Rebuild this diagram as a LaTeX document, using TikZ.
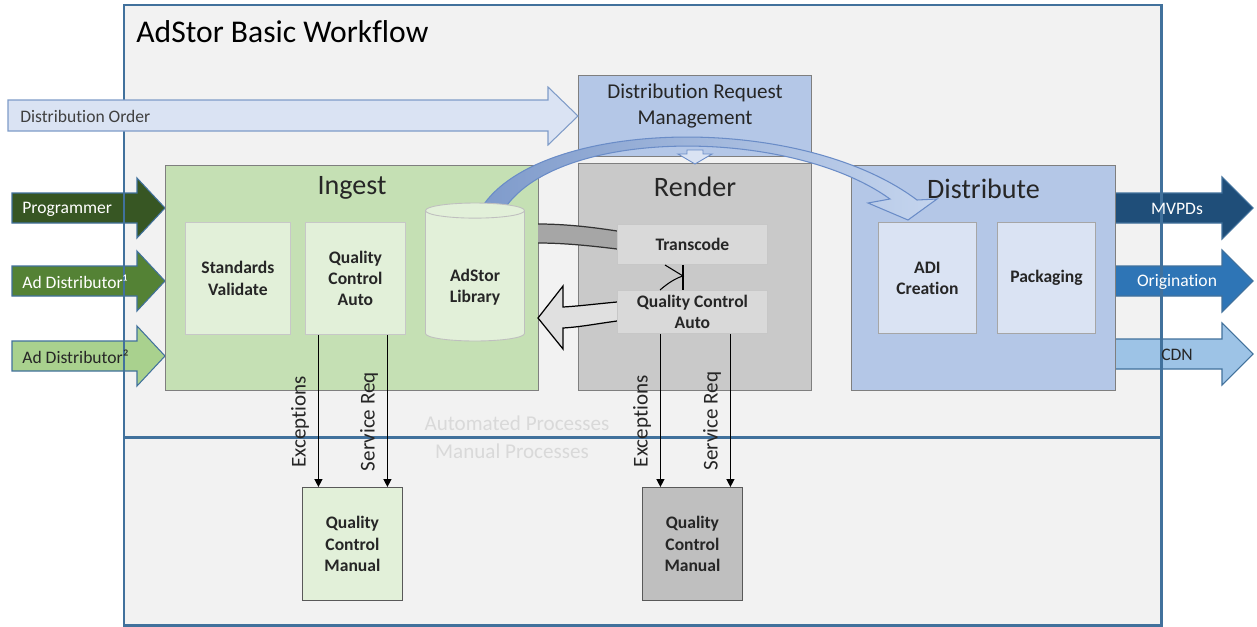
\documentclass[tikz,border=0pt]{standalone}
\usepackage{fontspec}
\setmainfont{Carlito}[Ligatures=NoCommon]
\usepackage{xcolor}
\definecolor{frameBlue}{HTML}{41719C}
\definecolor{frameFill}{HTML}{F2F2F2}
\definecolor{orderFill}{HTML}{DAE3F3}
\definecolor{orderLine}{HTML}{7F9CC8}
\definecolor{drmFill}{HTML}{B4C7E7}
\definecolor{ingestFill}{HTML}{C5E0B4}
\definecolor{ingestLight}{HTML}{E2F0D9}
\definecolor{renderFill}{HTML}{C9C9C9}
\definecolor{renderLight}{HTML}{D9D9D9}
\definecolor{distFill}{HTML}{B4C7E7}
\definecolor{distLight}{HTML}{DAE3F3}
\definecolor{boxLine}{HTML}{7F7F7F}
\definecolor{progFill}{HTML}{375623}
\definecolor{adOneFill}{HTML}{548235}
\definecolor{adTwoFill}{HTML}{A9D18E}
\definecolor{mvpdFill}{HTML}{1F4E79}
\definecolor{origFill}{HTML}{2E75B6}
\definecolor{cdnFill}{HTML}{9DC3E6}
\definecolor{textDark}{HTML}{262626}
\definecolor{ghostText}{HTML}{D9D9D9}
\definecolor{curveDark}{HTML}{7F9BCB}
\definecolor{curveLight}{HTML}{C5D5EE}
\definecolor{curveLine}{HTML}{6A8CC7}
\definecolor{bandFill}{HTML}{A6A6A6}
\usepackage{tikz}
\usetikzlibrary{shapes.geometric,arrows.meta,positioning,calc}
\tikzset{
    stage/.style={
        rectangle,
        draw=boxLine,
        line width=0.6pt,
        anchor=north west,
        inner sep=0pt
    },
    stagetitle/.style={
        font=\fontsize{16}{19}\selectfont,
        text=textDark,
        inner sep=0pt
    },
    task/.style={
        rectangle,
        draw=black!22,
        line width=0.5pt,
        anchor=north west,
        align=center,
        inner sep=0pt,
        font=\fontsize{10}{12}\selectfont\bfseries,
        text=textDark
    },
    manual/.style={
        task,
        draw=black!65
    },
    feed/.style={
        draw=frameBlue,
        line width=0.6pt
    },
    feedtext/.style={
        anchor=west,
        inner sep=0pt,
        font=\fontsize{10}{12}\selectfont
    },
    outtext/.style={
        inner sep=0pt,
        font=\fontsize{10}{12}\selectfont
    },
    flow/.style={
        -{Triangle[length=4.5pt,width=4.5pt]},
        line width=0.8pt,
        color=black
    },
    flowlabel/.style={
        rotate=90,
        anchor=south,
        inner sep=5pt,
        font=\fontsize{12}{14}\selectfont,
        text=textDark
    },
    ghost/.style={
        font=\fontsize{12}{14}\selectfont,
        text=ghostText,
        inner sep=0pt
    }
}
\begin{document}
\begin{tikzpicture}[x=0.02cm, y=-0.02cm]
    \useasboundingbox (0,0) rectangle (1257,626);
    \fill[white] (0,0) rectangle (1257,626);
    \fill[frameFill] (124,5) rectangle (1161,625);

    % feeds in and out
    \draw[feed, fill=progFill] (12,193) -- (137,193) -- (137,178) -- (165,208) -- (137,238) -- (137,223) -- (12,223) -- cycle;
    \draw[feed, fill=adOneFill] (12,266) -- (137,266) -- (137,251) -- (165,281) -- (137,311) -- (137,296) -- (12,296) -- cycle;
    \draw[feed, fill=adTwoFill] (12,341) -- (137,341) -- (137,326) -- (165,356) -- (137,386) -- (137,371) -- (12,371) -- cycle;
    \draw[feed, fill=mvpdFill] (1115,193) -- (1222,193) -- (1222,177) -- (1253,208) -- (1222,239) -- (1222,223) -- (1115,223) -- cycle;
    \draw[feed, fill=origFill] (1115,266) -- (1222,266) -- (1222,250) -- (1253,281) -- (1222,312) -- (1222,296) -- (1115,296) -- cycle;
    \draw[feed, fill=cdnFill] (1115,339) -- (1222,339) -- (1222,323) -- (1253,354) -- (1222,385) -- (1222,369) -- (1115,369) -- cycle;

    \node[stage, fill=ingestFill, minimum width=7.46cm, minimum height=4.5cm] (ingest) at (165,165) {};
    \node[stage, fill=renderFill, minimum width=4.66cm, minimum height=4.54cm] (render) at (578,163) {};
    \node[stage, fill=distFill, minimum width=5.28cm, minimum height=4.5cm] (distribute) at (851,165) {};
    \node[stage, fill=drmFill, minimum width=4.66cm, minimum height=1.62cm] (drm) at (578,75) {};

    % request down into render
    \draw[draw=curveLine, fill=orderFill, line width=0.5pt] (687,150) -- (703,150) -- (703,154) -- (712,154) -- (695,164) -- (678,154) -- (687,154) -- cycle;

    % library to distribute
    \draw[draw=curveLine, line width=0.6pt, left color=curveDark, right color=curveLight]
        (482,207) .. controls (540,118) and (800,112) .. (917,200) -- (937,199) -- (908,220) -- (868,203) -- (890,199)
        .. controls (790,127) and (560,127) .. (505,208) -- cycle;

    % transcode band and return arrow
    \fill[bandFill] (617,231) .. controls (585,226) and (560,224) .. (538,224) -- (538,243) .. controls (560,243) and (585,245) .. (617,249) -- cycle;
    \draw[line width=0.7pt, black!80] (617,231) .. controls (585,226) and (560,224) .. (538,224);
    \draw[line width=0.7pt, black!80] (538,243) .. controls (560,243) and (585,245) .. (617,249);
    \draw[fill=black!12, line width=0.7pt] (617,302) .. controls (595,304) and (580,306) .. (563,307) -- (563,286) -- (538,318)
        -- (563,349) -- (563,328) .. controls (580,327) and (595,324) .. (617,321);

    \node[task, fill=ingestLight, minimum width=2.1cm, minimum height=2.24cm] (standards) at (185,222) {Standards\\Validate};
    \node[task, fill=ingestLight, minimum width=2cm, minimum height=2.24cm] (qcIngest) at (305,222) {Quality\\Control\\Auto};
    \node[cylinder, shape border rotate=90, aspect=0.3, draw=black!25, fill=ingestLight, line width=0.5pt,
        minimum width=1.98cm, minimum height=2.76cm, align=center, inner sep=0pt,
        font=\fontsize{10}{12}\selectfont\bfseries, text=textDark] (library) at (475,276) {\mbox{}\\[8pt]AdStor\\Library};
    \node[task, fill=renderLight, minimum width=3cm, minimum height=0.8cm] (transcode) at (617,224) {Transcode};
    \node[task, fill=renderLight, minimum width=3cm, minimum height=0.86cm] (qcRender) at (617,290) {Quality Control\\Auto};
    \node[task, fill=distLight, draw=black!35, minimum width=1.96cm, minimum height=2.22cm] (adi) at (878,222) {ADI\\Creation};
    \node[task, fill=distLight, draw=black!35, minimum width=1.96cm, minimum height=2.22cm] (packaging) at (997,222) {Packaging};
    \node[manual, fill=ingestLight, minimum width=2cm, minimum height=2.26cm] (qcmIngest) at (302,487) {Quality\\Control\\Manual};
    \node[manual, fill=black!25, minimum width=2cm, minimum height=2.26cm] (qcmRender) at (642,487) {Quality\\Control\\Manual};

    % transcode <-> qc
    \draw[line width=0.6pt] (transcode.south -| 683,0) -- (qcRender.north -| 683,0);
    \draw[line width=0.6pt] (660,290) .. controls (668,283) and (676,278) .. (683,276) -- (665,265);

    % frame
    \draw[frameBlue, line width=1.7pt] (124,5) rectangle (1161,625);
    \draw[frameBlue, line width=1.7pt] (124,437) -- (1161,437);

    \draw[draw=orderLine, fill=orderFill, line width=0.6pt] (8,100) -- (548,100) -- (548,87) -- (578,116) -- (548,145) -- (548,131) -- (8,131) -- cycle;

    % texts
    \node[anchor=west, inner sep=0pt, font=\fontsize{18}{22}\selectfont] (title) at (136,32) {AdStor Basic Workflow};
    \node[feedtext, text=black!75] at (20,116) {Distribution Order};
    \node[align=center, inner sep=0pt, font=\fontsize{12}{14.4}\selectfont, text=textDark] at ($(drm.north)+(0,31)$) {Distribution Request\\Management};
    \node[stagetitle] at ($(ingest.north)+(0,23)$) {Ingest};
    \node[stagetitle] at ($(render.north)+(0,24)$) {Render};
    \node[stagetitle] at ($(distribute.north)+(0,24)$) {Distribute};
    \node[feedtext, text=white] at (22,209) {Programmer};
    \node[feedtext, text=white] at (22,282) {Ad Distributor¹};
    \node[feedtext, text=textDark] at (22,357) {Ad Distributor²};
    \node[outtext, text=white] at (1177,209) {MVPDs};
    \node[outtext, text=white] at (1177,282) {Origination};
    \node[outtext, text=textDark] at (1177,355) {CDN};
    \node[ghost] at (517,423) {Automated Processes};
    \node[ghost] at (512,451) {Manual Processes};

    % exceptions and service requests
    \draw[flow] ($(qcIngest.south)+(-37,0)$) coordinate (exI) -- (exI |- qcmIngest.north) node[flowlabel, pos=0.57] {Exceptions};
    \draw[flow] ($(qcIngest.south)+(32,0)$) coordinate (srI) -- (srI |- qcmIngest.north) node[flowlabel, pos=0.57] {Service Req};
    \draw[flow] ($(qcRender.south)+(-32,0)$) coordinate (exR) -- (exR |- qcmRender.north) node[flowlabel, pos=0.57] {Exceptions};
    \draw[flow] ($(qcRender.south)+(38,0)$) coordinate (srR) -- (srR |- qcmRender.north) node[flowlabel, pos=0.57] {Service Req};
\end{tikzpicture}
\end{document}
